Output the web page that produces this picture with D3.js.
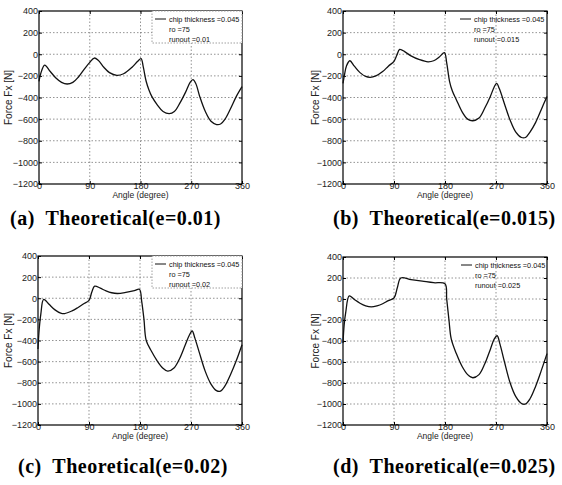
<!DOCTYPE html>
<html>
<head>
<meta charset="utf-8">
<script src="https://cdn.jsdelivr.net/npm/d3@7"></script>
<style>
body { margin: 0; background: #fff; }
</style>
</head>
<body>
<svg id="fig" width="562" height="485"></svg>
<script>
var xTicks = [0, 90, 180, 270, 360];
var yTicks = [400, 200, 0, -200, -400, -600, -800, -1000, -1200];
var captions = ["(a)  Theoretical(e=0.01)", "(b)  Theoretical(e=0.015)",
                "(c)  Theoretical(e=0.02)", "(d)  Theoretical(e=0.025)"];
var legendLines = ["chip thickness =0.045", "ro =75"];
var runouts = ["runout =0.01", "runout =0.015", "runout =0.02", "runout =0.025"];

var angleA = [0, 3, 10, 20, 30, 40, 50, 60, 70, 80, 90, 98, 105, 115, 125, 138, 150, 165, 175, 181,
              185, 190, 195, 200, 210, 220, 231, 240, 250, 260, 268, 273, 278, 285, 295, 305, 315, 322, 330, 340, 350, 360];
var forceA = [-250, -180, -100, -160, -220, -260, -275, -260, -210, -140, -75, -35, -55, -120, -170, -195, -180, -120, -65, -40,
              -120, -250, -330, -390, -470, -530, -550, -530, -450, -350, -260, -235, -270, -390, -530, -620, -650, -645, -600, -500, -390, -300];

var angleB = [0, 3, 6, 12, 20, 30, 40, 48, 58, 70, 80, 90, 95, 100, 110, 120, 135, 150, 160, 170, 179,
              183, 188, 193, 200, 211, 220, 229, 240, 250, 260, 267, 271, 276, 285, 295, 305, 315, 322, 330, 340, 350, 360];
var forceB = [-270, -180, -110, -60, -110, -170, -205, -213, -200, -160, -110, -65, -10, 45, 20, -15, -50, -70, -60, -25, 15,
              -80, -250, -340, -420, -540, -600, -615, -590, -500, -390, -300, -270, -320, -460, -610, -720, -770, -770, -720, -630, -510, -390];

var angleC = [0, 2, 5, 10, 20, 30, 40, 47, 60, 70, 80, 90, 95, 100, 110, 120, 130, 140, 155, 170, 179,
              183, 187, 191, 200, 210, 220, 229, 240, 250, 260, 267, 272, 277, 285, 295, 305, 315, 322, 330, 340, 350, 360];
var forceC = [-480, -300, -150, -10, -60, -110, -140, -145, -120, -90, -55, -20, 60, 115, 95, 70, 52, 45, 55, 72, 85,
              -30, -200, -400, -500, -590, -660, -690, -660, -570, -440, -350, -310, -380, -520, -690, -810, -875, -880, -830, -720, -590, -440];

var angleD = [0, 2, 5, 11, 20, 30, 40, 50, 60, 70, 80, 90, 96, 102, 120, 140, 160, 180,
              183, 187, 191, 200, 210, 220, 229, 240, 250, 260, 267, 272, 277, 285, 295, 305, 315, 322, 330, 340, 350, 360];
var forceD = [-420, -250, -120, 30, -5, -40, -65, -75, -65, -45, -15, 10, 110, 200, 185, 170, 155, 145,
              0, -200, -380, -520, -640, -720, -750, -720, -620, -480, -380, -350, -430, -600, -800, -930, -995, -1000, -950, -830, -680, -520];

var series = [[angleA, forceA], [angleB, forceB], [angleC, forceC], [angleD, forceD]];

// plot frames + label spots
var layout = [
  {l: 39,  r: 242, t: 11,  b: 184, ylab: 9,   capX: 10,  capY: 225, legX: 152, legBox: true},
  {l: 343, r: 547, t: 11,  b: 184, ylab: 316, capX: 333, capY: 225, legX: 457, legBox: false},
  {l: 38,  r: 242, t: 256, b: 425, ylab: 9,   capX: 18,  capY: 473, legX: 152, legBox: true},
  {l: 343, r: 547, t: 257, b: 425, ylab: 316, capX: 333, capY: 473, legX: 458, legBox: false}
];

var sans = "Liberation Sans, Arial, sans-serif";
var svg = d3.select("#fig");

layout.forEach(function(p, i) {
    var x = d3.scaleLinear().domain([0, 360]).range([p.l, p.r]);
    var y = d3.scaleLinear().domain([-1200, 400]).range([p.b, p.t]);
    var g = svg.append("g");

    // dotted grid
    g.selectAll(".vg").data(xTicks.slice(1, -1)).enter().append("line")
        .attr("x1", function(d) { return x(d); }).attr("x2", function(d) { return x(d); })
        .attr("y1", p.t).attr("y2", p.b)
        .attr("stroke", "#777").attr("stroke-width", 0.8).attr("stroke-dasharray", "1.5,2");
    g.selectAll(".hg").data(yTicks.slice(1, -1)).enter().append("line")
        .attr("x1", p.l).attr("x2", p.r)
        .attr("y1", function(d) { return y(d); }).attr("y2", function(d) { return y(d); })
        .attr("stroke", "#777").attr("stroke-width", 0.8).attr("stroke-dasharray", "1.5,2");

    // axes, inward ticks
    var ax = g.append("g").attr("transform", "translate(0," + p.b + ")")
        .call(d3.axisBottom(x).tickValues(xTicks).tickSize(-3).tickPadding(-1).tickFormat(d3.format("d")));
    var ay = g.append("g").attr("transform", "translate(" + p.l + ",0)")
        .call(d3.axisLeft(y).tickValues(yTicks).tickSize(-3).tickPadding(1).tickFormat(d3.format("d")));
    g.append("g").attr("transform", "translate(" + p.r + ",0)")
        .call(d3.axisRight(y).tickValues(yTicks).tickSize(-3).tickFormat(""));
    g.append("g").attr("transform", "translate(0," + p.t + ")")
        .call(d3.axisTop(x).tickValues(xTicks).tickSize(-3).tickFormat(""));
    g.selectAll(".domain").remove();
    g.selectAll(".tick line").attr("stroke", "#000");
    [ax, ay].forEach(function(a) {
        a.selectAll("text").style("font-size", "9px").attr("fill", "#222")
            .style("font-family", sans);
    });

    g.append("rect").attr("x", p.l).attr("y", p.t)
        .attr("width", p.r - p.l).attr("height", p.b - p.t)
        .attr("fill", "none").attr("stroke", "#000").attr("stroke-width", 1.2);

    // force curve
    var pts = d3.zip(series[i][0], series[i][1]);
    g.append("path").datum(pts)
        .attr("fill", "none").attr("stroke", "#111").attr("stroke-width", 1.3)
        .attr("d", d3.line()
            .curve(d3.curveCatmullRom.alpha(0.5))
            .x(function(d) { return x(d[0]); })
            .y(function(d) { return y(d[1]); }));

    // legend
    var lg = g.append("g").attr("transform", "translate(" + p.legX + "," + p.t + ")");
    if (p.legBox) {
        lg.append("rect").attr("x", 0).attr("y", 0)
            .attr("width", p.r - p.legX).attr("height", 32)
            .attr("fill", "#fff").attr("stroke", "#888").attr("stroke-width", 0.8)
            .attr("stroke-dasharray", "1.5,1.5");
    }
    lg.append("line").attr("x1", 3).attr("x2", 14).attr("y1", 8).attr("y2", 8)
        .attr("stroke", "#111").attr("stroke-width", 1);
    lg.selectAll("text").data(legendLines.concat([runouts[i]])).enter().append("text")
        .attr("x", 17).attr("y", function(d, k) { return 10.5 + k * 10; })
        .style("font-family", sans).style("font-size", "7.3px").attr("fill", "#111")
        .text(function(d) { return d; });

    // axis titles
    g.append("text").attr("x", (p.l + p.r) / 2).attr("y", p.b + 14)
        .attr("text-anchor", "middle").style("font-family", sans).style("font-size", "8.5px").attr("fill", "#222")
        .text("Angle (degree)");
    g.append("text")
        .attr("transform", "translate(" + (p.ylab + 3) + "," + ((p.t + p.b) / 2) + ") rotate(-90)")
        .attr("text-anchor", "middle").style("font-family", sans).style("font-size", "10px").attr("fill", "#222")
        .text("Force Fx [N]");

    // caption
    svg.append("text").attr("x", p.capX).attr("y", p.capY)
        .style("font-family", "Liberation Serif, Times New Roman, serif")
        .style("font-weight", "bold").style("font-size", "20px").style("letter-spacing", "0.5px")
        .attr("fill", "#000").style("white-space", "pre")
        .text(captions[i]);
});
</script>
</body>
</html>
